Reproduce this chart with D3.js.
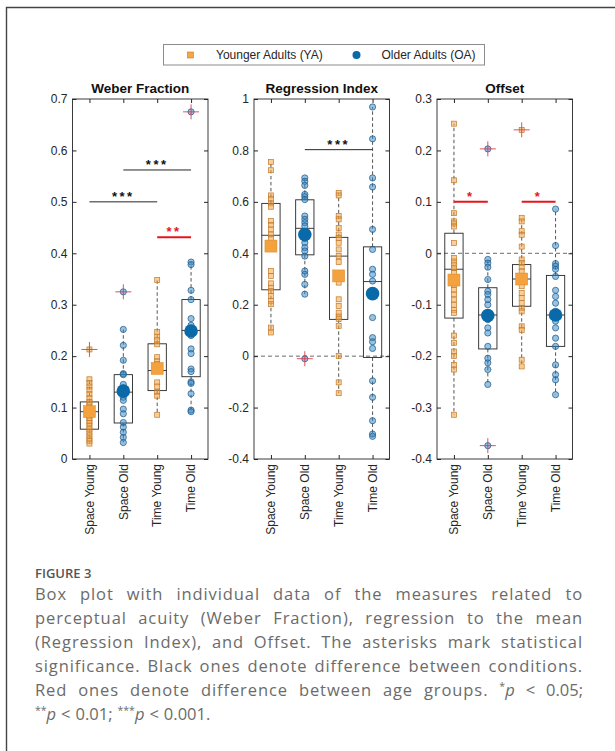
<!DOCTYPE html>
<html>
<head>
<meta charset="utf-8">
<script src="https://cdn.jsdelivr.net/npm/d3@7"></script>
<style>
    body { margin: 0; background: #fff; }
    svg { display: block; }
</style>
</head>
<body>
<script>
const categories = ['Space Young', 'Space Old', 'Time Young', 'Time Old'];
const legendItems = ['Younger Adults (YA)', 'Older Adults (OA)'];

// Weber Fraction
const weberTicks = [0, 0.1, 0.2, 0.3, 0.4, 0.5, 0.6, 0.7];
const weberPoints = [
    [0.155, 0.148, 0.141, 0.134, 0.126, 0.118, 0.111, 0.105, 0.1, 0.095, 0.09, 0.085, 0.08, 0.075, 0.07, 0.064, 0.058, 0.052, 0.046, 0.04, 0.035, 0.03],
    [0.252, 0.221, 0.192, 0.166, 0.164, 0.145, 0.138, 0.128, 0.12, 0.114, 0.097, 0.088, 0.071, 0.062, 0.052, 0.042, 0.032],
    [0.348, 0.247, 0.238, 0.231, 0.223, 0.198, 0.19, 0.185, 0.179, 0.172, 0.149, 0.141, 0.13, 0.123, 0.086],
    [0.383, 0.378, 0.328, 0.31, 0.273, 0.26, 0.25, 0.24, 0.214, 0.205, 0.175, 0.17, 0.15, 0.147, 0.127, 0.095, 0.092],
];
const weberOutliers = [[0.213], [0.325], [], [0.675]];
const weberBoxes = [[0.058, 0.092, 0.111], [0.07, 0.13, 0.164], [0.133, 0.172, 0.224], [0.16, 0.25, 0.31]];
const weberMeans = [0.092, 0.132, 0.176, 0.249];
const weberSig = [
    { from: 0, to: 2, value: 0.5, label: '***', red: false },
    { from: 1, to: 3, value: 0.562, label: '***', red: false },
    { from: 2, to: 3, value: 0.431, label: '**', red: true },
];

// Regression Index
const regressionTicks = [-0.4, -0.2, 0, 0.2, 0.4, 0.6, 0.8, 1];
const regressionPoints = [
    [0.755, 0.723, 0.625, 0.612, 0.594, 0.581, 0.525, 0.51, 0.493, 0.473, 0.457, 0.428, 0.331, 0.312, 0.283, 0.266, 0.253, 0.234, 0.215, 0.202, 0.111, 0.092],
    [0.693, 0.68, 0.664, 0.629, 0.62, 0.609, 0.545, 0.532, 0.519, 0.506, 0.48, 0.457, 0.441, 0.422, 0.409, 0.389, 0.331, 0.318, 0.279, 0.241],
    [0.635, 0.625, 0.545, 0.532, 0.499, 0.473, 0.46, 0.441, 0.415, 0.389, 0.366, 0.286, 0.221, 0.195, 0.169, 0.154, 0.144, 0.118, 0.0, -0.102, -0.144],
    [0.969, 0.845, 0.693, 0.658, 0.493, 0.415, 0.338, 0.318, 0.292, 0.247, 0.15, 0.072, 0.056, 0.03, -0.096, -0.16, -0.251, -0.303, -0.312],
];
const regressionOutliers = [[], [-0.01], [], []];
const regressionBoxes = [[0.258, 0.47, 0.594], [0.394, 0.497, 0.608], [0.143, 0.389, 0.462], [-0.005, 0.29, 0.425]];
const regressionMeans = [0.428, 0.473, 0.312, 0.243];
const regressionSig = [
    { from: 1, to: 3, value: 0.803, label: '***', red: false },
];

// Offset
const offsetTicks = [-0.4, -0.3, -0.2, -0.1, 0, 0.1, 0.2, 0.3];
const offsetPoints = [
    [0.252, 0.142, 0.078, 0.062, 0.058, 0.052, 0.02, -0.009, -0.016, -0.022, -0.029, -0.038, -0.061, -0.071, -0.08, -0.09, -0.1, -0.11, -0.116, -0.16, -0.174, -0.191, -0.2, -0.217, -0.226, -0.314],
    [-0.012, -0.019, -0.027, -0.051, -0.074, -0.08, -0.09, -0.1, -0.129, -0.145, -0.155, -0.181, -0.204, -0.213, -0.226, -0.255],
    [0.069, 0.062, 0.043, 0.036, 0.013, -0.012, -0.019, -0.027, -0.035, -0.045, -0.064, -0.077, -0.087, -0.097, -0.106, -0.113, -0.142, -0.149, -0.207, -0.22],
    [0.086, 0.015, -0.02, -0.025, -0.031, -0.045, -0.072, -0.084, -0.097, -0.113, -0.123, -0.132, -0.145, -0.165, -0.181, -0.217, -0.236, -0.246, -0.275],
];
const offsetOutliers = [[], [0.203, -0.374], [0.24], []];
const offsetBoxes = [[-0.126, -0.031, 0.039], [-0.186, -0.12, -0.067], [-0.103, -0.05, -0.022], [-0.181, -0.12, -0.043]];
const offsetMeans = [-0.052, -0.121, -0.05, -0.12];
const offsetSig = [
    { from: 0, to: 1, value: 0.1, label: '*', red: true },
    { from: 2, to: 3, value: 0.1, label: '*', red: true },
];

const captionTitle = 'FIGURE 3';
const captionLines = [
    'Box plot with individual data of the measures related to',
    'perceptual acuity (Weber Fraction), regression to the mean',
    '(Regression Index), and Offset. The asterisks mark statistical',
    'significance. Black ones denote difference between conditions.',
    'Red ones denote difference between age groups. *p < 0.05;',
    '**p < 0.01; ***p < 0.001.',
];

const panels = [
    { title: 'Weber Fraction', ticks: weberTicks, points: weberPoints, outliers: weberOutliers, boxes: weberBoxes, means: weberMeans, sig: weberSig, zero: false },
    { title: 'Regression Index', ticks: regressionTicks, points: regressionPoints, outliers: regressionOutliers, boxes: regressionBoxes, means: regressionMeans, sig: regressionSig, zero: true },
    { title: 'Offset', ticks: offsetTicks, points: offsetPoints, outliers: offsetOutliers, boxes: offsetBoxes, means: offsetMeans, sig: offsetSig, zero: true },
];

const W = 615, H = 751;
const font = "'Liberation Sans', Arial, Helvetica, sans-serif";
const youngFill = '#f5a646', youngEdge = '#c07a2c';
const oldFill = '#2f86c4', oldEdge = '#1b5686';
const red = '#e8141c';
const crossRed = '#de3a4e';

const svg = d3.select('body').append('svg').attr('width', W).attr('height', H);

// page frame (top + left)
svg.append('path')
    .attr('d', `M6.5,${H} V7.5 H${W}`)
    .attr('fill', 'none')
    .attr('stroke', '#444')
    .attr('stroke-width', 1.4);

// legend
const legend = svg.append('g');
legend.append('rect')
    .attr('x', 163.5).attr('y', 44.5)
    .attr('width', 321).attr('height', 20.5)
    .attr('fill', '#fff').attr('stroke', '#8c8c8c');
legend.append('rect')
    .attr('x', 187.5).attr('y', 52).attr('width', 6).attr('height', 6)
    .attr('fill', youngFill).attr('stroke', youngEdge).attr('stroke-width', 0.6);
legend.append('circle')
    .attr('cx', 356.5).attr('cy', 55).attr('r', 4)
    .attr('fill', '#0a6aa9');
legend.selectAll('text.leg')
    .data(legendItems)
    .enter()
    .append('text')
    .classed('leg', true)
    .attr('x', (_, i) => (i ? 381.5 : 216))
    .attr('y', 59.2)
    .attr('font-family', font)
    .attr('font-size', 12)
    .attr('fill', '#262626')
    .text(d => d);

const panelLeft = [72.5, 254, 437];
const panelWidth = 135.5;
const plotTop = 99, plotBottom = 459;

panels.forEach((p, pi) => {
    const x0 = panelLeft[pi];
    const x = d3.scaleLinear().domain([0.5, 4.5]).range([x0, x0 + panelWidth]);
    const y = d3.scaleLinear().domain(d3.extent(p.ticks)).range([plotBottom, plotTop]);
    const g = svg.append('g');

    if (p.zero) {
        g.append('line')
            .attr('x1', x0).attr('x2', x0 + panelWidth)
            .attr('y1', y(0)).attr('y2', y(0))
            .attr('stroke', '#6a6a6a').attr('stroke-dasharray', '4,3');
    }

    const groups = g.selectAll('.group')
        .data(categories.map((c, i) => ({
            name: c,
            pos: i + 1,
            young: c.includes('Young'),
            points: p.points[i],
            outliers: p.outliers[i],
            box: p.boxes[i],
            mean: p.means[i],
        })))
        .enter()
        .append('g')
        .classed('group', true);

    // whiskers
    groups.append('line')
        .attr('x1', d => x(d.pos)).attr('x2', d => x(d.pos))
        .attr('y1', d => y(d.box[2])).attr('y2', d => y(d3.max(d.points)))
        .attr('stroke', '#555').attr('stroke-dasharray', '3.5,2.5');
    groups.append('line')
        .attr('x1', d => x(d.pos)).attr('x2', d => x(d.pos))
        .attr('y1', d => y(d.box[0])).attr('y2', d => y(d3.min(d.points)))
        .attr('stroke', '#555').attr('stroke-dasharray', '3.5,2.5');

    // box + median
    groups.append('rect')
        .attr('x', d => x(d.pos - 0.27))
        .attr('width', x(0.77) - x(0.23))
        .attr('y', d => y(d.box[2]))
        .attr('height', d => y(d.box[0]) - y(d.box[2]))
        .attr('fill', 'none').attr('stroke', '#262626').attr('stroke-width', 0.9);
    groups.append('line')
        .attr('x1', d => x(d.pos - 0.27)).attr('x2', d => x(d.pos + 0.27))
        .attr('y1', d => y(d.box[1])).attr('y2', d => y(d.box[1]))
        .attr('stroke', '#262626').attr('stroke-width', 0.9);

    // individual points (outliers included)
    groups.each(function(d) {
        const sel = d3.select(this);
        const all = d.points.concat(d.outliers);
        if (d.young) {
            sel.selectAll('.pt').data(all).enter().append('rect')
                .classed('pt', true)
                .attr('x', x(d.pos) - 2.5).attr('y', v => y(v) - 2.5)
                .attr('width', 5).attr('height', 5)
                .attr('fill', youngFill).attr('fill-opacity', 0.55)
                .attr('stroke', youngEdge).attr('stroke-width', 0.7);
        } else {
            sel.selectAll('.pt').data(all).enter().append('circle')
                .classed('pt', true)
                .attr('cx', x(d.pos)).attr('cy', v => y(v)).attr('r', 3.1)
                .attr('fill', oldFill).attr('fill-opacity', 0.5)
                .attr('stroke', oldEdge).attr('stroke-width', 0.7);
        }
        // red crosses on outliers
        const cross = sel.selectAll('.cross').data(d.outliers).enter().append('g').classed('cross', true);
        cross.append('line')
            .attr('x1', x(d.pos) - 8).attr('x2', x(d.pos) + 8)
            .attr('y1', v => y(v)).attr('y2', v => y(v))
            .attr('stroke', crossRed).attr('stroke-width', 0.9);
        cross.append('line')
            .attr('x1', x(d.pos)).attr('x2', x(d.pos))
            .attr('y1', v => y(v) - 7.5).attr('y2', v => y(v) + 7.5)
            .attr('stroke', crossRed).attr('stroke-width', 0.9);

        // mean marker
        if (d.young) {
            sel.append('rect')
                .attr('x', x(d.pos) - 6).attr('y', y(d.mean) - 6)
                .attr('width', 12).attr('height', 12)
                .attr('fill', '#f4a23e').attr('stroke', '#d98a2e').attr('stroke-width', 0.5);
        } else {
            sel.append('circle')
                .attr('cx', x(d.pos)).attr('cy', y(d.mean)).attr('r', 6.8)
                .attr('fill', '#0a6aa9');
        }
    });

    // significance bars
    const sig = g.selectAll('.sig').data(p.sig).enter().append('g').classed('sig', true);
    sig.append('line')
        .attr('x1', d => x(d.from + 1)).attr('x2', d => x(d.to + 1))
        .attr('y1', d => y(d.value)).attr('y2', d => y(d.value))
        .attr('stroke', d => (d.red ? red : '#262626'))
        .attr('stroke-width', d => (d.red ? 2 : 1));
    sig.append('text')
        .attr('x', d => (x(d.from + 1) + x(d.to + 1)) / 2)
        .attr('y', d => y(d.value) - 1)
        .attr('text-anchor', 'middle')
        .attr('font-family', font)
        .attr('font-size', 13)
        .attr('font-weight', 'bold')
        .attr('letter-spacing', 2.5)
        .attr('fill', d => (d.red ? red : '#111'))
        .text(d => d.label);

    // axes (ticks inward on all sides)
    const styleAxis = a => {
        a.select('.domain').remove();
        a.selectAll('line').attr('stroke', '#262626');
        a.attr('font-family', font).attr('font-size', 12);
        a.selectAll('text').attr('fill', '#262626');
    };
    g.append('g').attr('transform', `translate(${x0},0)`)
        .call(d3.axisLeft(y).tickValues(p.ticks).tickSize(-4).tickPadding(5).tickFormat(d => String(d)))
        .call(styleAxis);
    g.append('g').attr('transform', `translate(${x0 + panelWidth},0)`)
        .call(d3.axisRight(y).tickValues(p.ticks).tickSize(-4).tickFormat(''))
        .call(styleAxis);
    g.append('g').attr('transform', `translate(0,${plotBottom})`)
        .call(d3.axisBottom(x).tickValues([1, 2, 3, 4]).tickSize(-4).tickFormat(''))
        .call(styleAxis);
    g.append('g').attr('transform', `translate(0,${plotTop})`)
        .call(d3.axisTop(x).tickValues([1, 2, 3, 4]).tickSize(-4).tickFormat(''))
        .call(styleAxis);

    g.append('rect')
        .attr('x', x0).attr('y', plotTop)
        .attr('width', panelWidth).attr('height', plotBottom - plotTop)
        .attr('fill', 'none').attr('stroke', '#262626').attr('stroke-width', 0.9);

    // rotated category labels
    g.selectAll('.xlab').data(categories).enter().append('text')
        .classed('xlab', true)
        .attr('transform', (_, i) => `translate(${x(i + 1)},${plotBottom + 5}) rotate(-90)`)
        .attr('dy', '0.35em')
        .attr('text-anchor', 'end')
        .attr('font-family', font)
        .attr('font-size', 12)
        .attr('fill', '#262626')
        .text(d => d);

    g.append('text')
        .attr('x', x0 + panelWidth / 2)
        .attr('y', 93)
        .attr('text-anchor', 'middle')
        .attr('font-family', font)
        .attr('font-size', 13.5)
        .attr('font-weight', 'bold')
        .attr('fill', '#111')
        .text(p.title);
});

// caption
const capFont = "'Open Sans', 'Noto Sans', sans-serif";
const capLeft = 35, capRight = 583;
svg.append('text')
    .attr('x', capLeft).attr('y', 578)
    .attr('font-family', capFont)
    .attr('font-size', 13)
    .attr('font-weight', 600)
    .attr('fill', '#555')
    .text(captionTitle);

const cap = svg.append('g')
    .attr('font-family', capFont)
    .attr('font-size', 16.5)
    .attr('fill', '#6b6b6b');

const isWord = w => /[a-z]{2,}/i.test(w);

const rows = captionLines.map((line, li) => {
    const words = line.split(' ');
    const row = cap.append('g');
    const nodes = words.map(w => {
        const t = row.append('text').attr('y', 600 + li * 24);
        const m = w.match(/^(\*+)p$/);
        if (m) {
            t.append('tspan').attr('font-size', 10.5).attr('dy', -6).text(m[1]);
            t.append('tspan').attr('font-style', 'italic').attr('dy', 6).text('p');
        } else {
            t.text(w);
        }
        return t;
    });
    return { words, nodes };
});

// the source face has wider letters: widen alphabetic words so line 4 sets with ~7px spaces
const ref = rows[3];
const refWidth = d3.sum(ref.nodes, t => t.node().getComputedTextLength());
const refLetters = d3.sum(ref.words.filter(isWord), w => w.length);
const spacing = Math.max(0, (capRight - capLeft - 7 * (ref.words.length - 1) - refWidth) / refLetters);

rows.forEach((r, li) => {
    r.nodes.forEach((t, i) => { if (isWord(r.words[i])) t.attr('letter-spacing', spacing); });
    const widths = r.nodes.map(t => t.node().getComputedTextLength());
    const total = d3.sum(widths);
    const last = li === rows.length - 1;
    const gap = last ? 5 : (capRight - capLeft - total) / (r.words.length - 1);
    let cx = capLeft;
    r.nodes.forEach((t, i) => {
        t.attr('x', cx);
        cx += widths[i] + gap;
    });
});
</script>
</body>
</html>
